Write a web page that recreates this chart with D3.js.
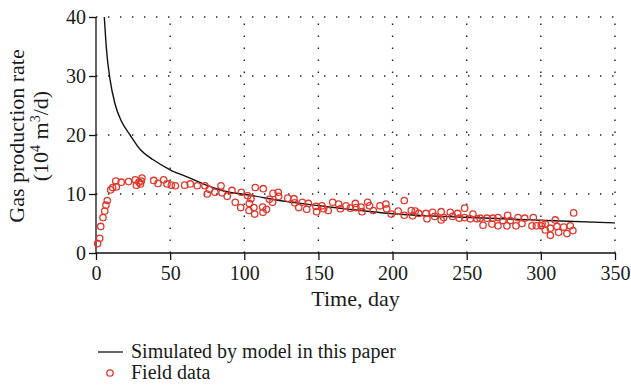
<!DOCTYPE html>
<html>
<head>
<meta charset="utf-8">
<script src="https://cdn.jsdelivr.net/npm/d3@7"></script>
<style>
  html, body { margin: 0; padding: 0; background: #fff; }
  svg text { font-family: "Liberation Serif", "DejaVu Serif", serif; fill: #1a1a1a; }
</style>
</head>
<body>
<svg id="chart" width="631" height="385"></svg>
<script>
// Axis ticks
const xTicks = [0, 50, 100, 150, 200, 250, 300, 350];
const yTicks = [0, 10, 20, 30, 40];

// Simulated production curve (day, 10^4 m3/d)
const simDays  = [5.6, 7.2, 9.4, 12.8, 17, 23, 30, 38.6, 50, 63.4, 73.5, 85, 106, 128.6, 151, 171, 202.8, 234, 265.7, 304, 350];
const simRates = [40, 34.1, 29.5, 25.3, 22.4, 20.0, 17.5, 15.8, 14.1, 12.7, 11.6, 10.6, 9.7, 8.7, 8.0, 7.4, 6.6, 6.2, 5.9, 5.5, 5.1];

// Field measurements (day, 10^4 m3/d)
const fieldDays = [
  1.1, 2.5, 3.2, 4.7, 5.9, 6.7, 7.6, 9.9, 11.2, 13.3, 13.7, 17, 22, 26.5, 27.3, 29, 30, 30.5, 31,
  38.9, 41.8, 45.6, 47.9, 50.8, 53.5, 59.8, 63.6, 68.3, 73.5, 75, 76.4, 80.2, 84.3, 85, 88.5, 91.7,
  93.9, 97.6, 98, 102.3, 103.4, 103.2, 104.5, 106.5, 107, 107.4, 112.8, 112.4, 112.6, 115, 116.9,
  119.1, 119.4, 122.9, 123.2, 129.3, 133.5, 134, 136.7, 139.1, 142.1, 143.2, 148.3, 148.8, 152.4,
  153.5, 156.6, 159.6, 163.6, 164.8, 168.6, 171.5, 174.9, 175.3, 178.7, 179.4, 183.2, 184.5, 187,
  191.5, 195.5, 196, 199.1, 203.8, 207.9, 207.9, 212.6, 213.5, 215.3, 217.6, 222.5, 223.2, 227,
  228.4, 232.8, 232.8, 234.5, 238.9, 240.5, 243.9, 245, 248.6, 248.6, 252.4, 254.2, 256.9, 259.1,
  261, 263.7, 267, 267.7, 271.1, 271.1, 274.4, 277.1, 277.6, 279.4, 283.2, 284.6, 287.3, 289.1,
  294, 294.9, 297, 300.3, 300.8, 303, 303, 306.4, 306.4, 309.7, 310.9, 312, 315.4, 317.6, 319.8,
  321.6, 322.1
];
const fieldRates = [
  1.6, 2.5, 4.5, 6.0, 7.1, 8.1, 8.9, 10.7, 11.1, 12.2, 11.2, 12.0, 12.1, 12.4, 11.5, 12.0, 11.7, 12.2, 12.7,
  12.3, 11.8, 12.4, 11.7, 11.5, 11.4, 11.5, 11.7, 11.4, 11.4, 10.0, 10.8, 10.3, 11.4, 10.2, 9.6, 10.6,
  8.6, 7.7, 10.3, 9.7, 8.4, 7.2, 9.2, 7.7, 6.6, 11.1, 10.9, 7.8, 6.9, 7.4, 9.1,
  8.6, 10.1, 10.3, 9.6, 9.3, 9.2, 8.5, 7.7, 8.6, 7.4, 8.4, 7.9, 7.0, 8.0,
  7.5, 7.2, 8.6, 8.3, 7.5, 8.0, 7.6, 8.4, 7.7, 7.8, 7.0, 8.6, 8.0, 7.2,
  8.0, 8.3, 7.5, 6.6, 7.1, 8.9, 6.4, 7.2, 6.3, 7.1, 6.7, 6.7, 5.8, 6.9,
  6.2, 7.0, 5.6, 6.0, 6.9, 6.2, 6.7, 5.9, 7.6, 6.0, 5.8, 6.6, 5.8, 5.9,
  4.7, 5.9, 4.9, 5.9, 6.0, 4.6, 5.5, 4.6, 6.4, 5.5, 4.6, 6.0, 5.0, 5.9,
  4.6, 6.0, 4.6, 4.6, 5.0, 4.9, 3.9, 4.2, 3.0, 5.6, 4.5, 3.5, 4.4, 3.3, 4.6,
  3.8, 6.8
];

const legendLabels = ["Simulated by model in this paper", "Field data"];

const svg = d3.select("#chart");
const plotL = 96, plotR = 615, plotT = 17, plotB = 253;

const x = d3.scaleLinear().domain([0, 350]).range([plotL, plotR]);
const y = d3.scaleLinear().domain([0, 40]).range([plotB, plotT]);

const red = "#e2372b";
const tickFont = 20, titleFont = 22, legendFont = 20;

// Dotted grid lines at each major tick
const grid = svg.append("g").attr("stroke", "#222").attr("stroke-width", 1.4)
  .attr("stroke-dasharray", "1.4 10.6").attr("fill", "none");
grid.selectAll("line.v").data(xTicks.filter(d => d > 0)).join("line")
  .attr("class", "v")
  .attr("x1", d => x(d)).attr("x2", d => x(d))
  .attr("y1", plotB).attr("y2", plotT);
grid.selectAll("line.h").data(yTicks.filter(d => d > 0)).join("line")
  .attr("class", "h")
  .attr("x1", plotL).attr("x2", plotR)
  .attr("y1", d => y(d)).attr("y2", d => y(d));

// Axes
const xAxis = d3.axisBottom(x).tickValues(xTicks).tickSize(7).tickPadding(6).tickFormat(d3.format("d"));
const yAxis = d3.axisLeft(y).tickValues(yTicks).tickSize(7).tickPadding(3).tickFormat(d3.format("d"));

const gx = svg.append("g").attr("transform", `translate(0,${plotB})`).call(xAxis);
const gy = svg.append("g").attr("transform", `translate(${plotL},0)`).call(yAxis);
[gx, gy].forEach(g => {
  g.select(".domain").attr("stroke", "#111").attr("stroke-width", 1.3);
  g.selectAll(".tick line").attr("stroke", "#111").attr("stroke-width", 1.3);
  g.selectAll(".tick text").attr("font-size", tickFont)
    .attr("font-family", "Liberation Serif, DejaVu Serif, serif").attr("fill", "#1a1a1a");
});
gx.select(".domain").attr("d", `M${plotL},0H${plotR}`);
gy.select(".domain").attr("d", `M0,${plotB}V${plotT}`);

// Axis titles
svg.append("text").attr("x", (plotL + plotR) / 2).attr("y", 306)
  .attr("text-anchor", "middle").attr("font-size", titleFont).text("Time, day");

const yTitle = svg.append("g").attr("transform", `translate(0,${(plotT + plotB) / 2 + 1}) rotate(-90)`);
yTitle.append("text").attr("x", 0).attr("y", 24).attr("text-anchor", "middle")
  .attr("font-size", titleFont).text("Gas production rate");
const yUnit = yTitle.append("text").attr("x", 0).attr("y", 48).attr("text-anchor", "middle")
  .attr("font-size", titleFont);
yUnit.append("tspan").text("(10");
yUnit.append("tspan").attr("dy", -8).attr("font-size", 14).text("4");
yUnit.append("tspan").attr("dy", 8).text(" m");
yUnit.append("tspan").attr("dy", -8).attr("font-size", 14).text("3");
yUnit.append("tspan").attr("dy", 8).text("/d)");

// Simulated curve
const simData = simDays.map((d, i) => [d, simRates[i]]);
svg.append("path").datum(simData)
  .attr("fill", "none").attr("stroke", "#111").attr("stroke-width", 1.4)
  .attr("d", d3.line().x(d => x(d[0])).y(d => y(d[1])).curve(d3.curveMonotoneX));

// Field data markers
const fieldData = fieldDays.map((d, i) => [d, fieldRates[i]]);
svg.append("g").selectAll("circle").data(fieldData).join("circle")
  .attr("cx", d => x(d[0])).attr("cy", d => y(d[1])).attr("r", 3.2)
  .attr("fill", "none").attr("stroke", red).attr("stroke-width", 1.3);

// Legend
const lg = svg.append("g");
lg.append("line").attr("x1", 98).attr("x2", 123).attr("y1", 352).attr("y2", 352)
  .attr("stroke", "#111").attr("stroke-width", 1.3);
lg.append("text").attr("x", 131).attr("y", 358).attr("font-size", legendFont).text(legendLabels[0]);
lg.append("circle").attr("cx", 110).attr("cy", 373).attr("r", 3.2)
  .attr("fill", "none").attr("stroke", red).attr("stroke-width", 1.3);
lg.append("text").attr("x", 131).attr("y", 379).attr("font-size", legendFont).text(legendLabels[1]);
</script>
</body>
</html>
